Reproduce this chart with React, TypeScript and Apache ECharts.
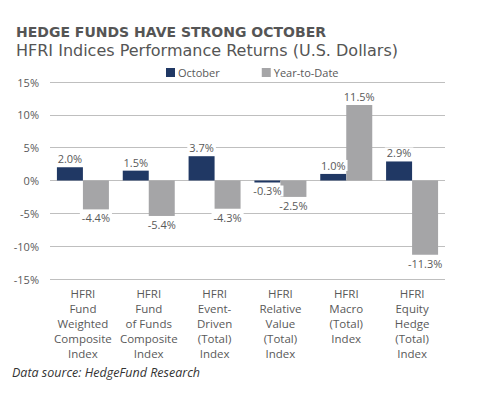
import React, { useEffect, useRef } from "react";
import * as echarts from "echarts";

const categories = [
  "HFRI\nFund\nWeighted\nComposite\nIndex",
  "HFRI\nFund\nof Funds\nComposite\nIndex",
  "HFRI\nEvent-\nDriven\n(Total)\nIndex",
  "HFRI\nRelative\nValue\n(Total)\nIndex",
  "HFRI\nMacro\n(Total)\nIndex",
  "HFRI\nEquity\nHedge\n(Total)\nIndex",
];
const october = [2.0, 1.5, 3.7, -0.3, 1.0, 2.9];
const ytd = [-4.4, -5.4, -4.3, -2.5, 11.5, -11.3];
const yTicks = { min: -15, max: 15, interval: 5 };

const FONT = "'Open Sans', sans-serif";
const LABEL_COLOR = "#595959";

function toData(vals: number[]) {
  return vals.map((v) => ({
    value: v,
    label: { position: v >= 0 ? "top" : "bottom" },
  }));
}

export default function App() {
  const ref = useRef<HTMLDivElement>(null);
  useEffect(() => {
    if (!ref.current) return;
    const chart = echarts.init(ref.current, null, { renderer: "svg" });
    const barLabel = {
      show: true,
      formatter: (p: any) => p.value.toFixed(1) + "%",
      color: LABEL_COLOR,
      fontFamily: FONT,
      fontSize: 11,
      backgroundColor: "#ffffff",
      padding: [0, 2],
      distance: 3,
    };
    chart.setOption({
      animation: false,
      backgroundColor: "#ffffff",
      title: [
        {
          text: "HEDGE FUNDS HAVE STRONG OCTOBER",
          left: 11,
          top: 20,
          textStyle: {
            fontFamily: "'DejaVu Sans', sans-serif",
            fontWeight: "bold",
            fontSize: 14,
            color: "#555555",
          },
        },
        {
          text: "HFRI Indices Performance Returns (U.S. Dollars)",
          left: 11,
          top: 37,
          textStyle: {
            fontFamily: "'DejaVu Sans', sans-serif",
            fontWeight: "normal",
            fontSize: 16,
            color: "#555555",
          },
        },
      ],
      legend: {
        top: 62,
        left: 161,
        itemWidth: 9,
        itemHeight: 9,
        itemGap: 42,
        icon: "rect",
        textStyle: { fontFamily: FONT, fontSize: 11, color: LABEL_COLOR, padding: [0, 0, 0, -2] },
        data: ["October", "Year-to-Date"],
      },
      grid: { left: 50, right: 50, top: 82, bottom: 120 },
      xAxis: {
        type: "category",
        data: categories,
        axisLine: { show: false, onZero: false },
        axisTick: { show: false },
        axisLabel: {
          interval: 0,
          margin: 7,
          fontFamily: FONT,
          fontSize: 11.5,
          lineHeight: 15,
          color: LABEL_COLOR,
          align: "center",
        },
      },
      yAxis: {
        type: "value",
        min: yTicks.min,
        max: yTicks.max,
        interval: yTicks.interval,
        axisLabel: {
          formatter: "{value}%",
          fontFamily: FONT,
          fontSize: 11,
          color: LABEL_COLOR,
          margin: 11,
        },
        axisLine: { show: false },
        axisTick: { show: false },
        splitLine: { lineStyle: { color: "#bfbfbf", width: 1 } },
      },
      series: [
        {
          name: "October",
          type: "bar",
          data: toData(october),
          barWidth: 26,
          barGap: "0%",
          itemStyle: { color: "#203864" },
          label: barLabel,
        },
        {
          name: "Year-to-Date",
          type: "bar",
          data: toData(ytd),
          barWidth: 26,
          itemStyle: { color: "#a5a5a7" },
          label: barLabel,
        },
      ],
      graphic: [
        {
          type: "text",
          left: 12,
          top: 366,
          style: {
            text: "Data source: HedgeFund Research",
            fontFamily: FONT,
            fontStyle: "italic",
            fontSize: 12.5,
            fill: "#333333",
          },
        },
      ],
    });
    return () => chart.dispose();
  }, []);
  return (
    <div
      ref={ref}
      style={{ position: "fixed", left: 0, top: 0, width: 495, height: 399 }}
    />
  );
}
